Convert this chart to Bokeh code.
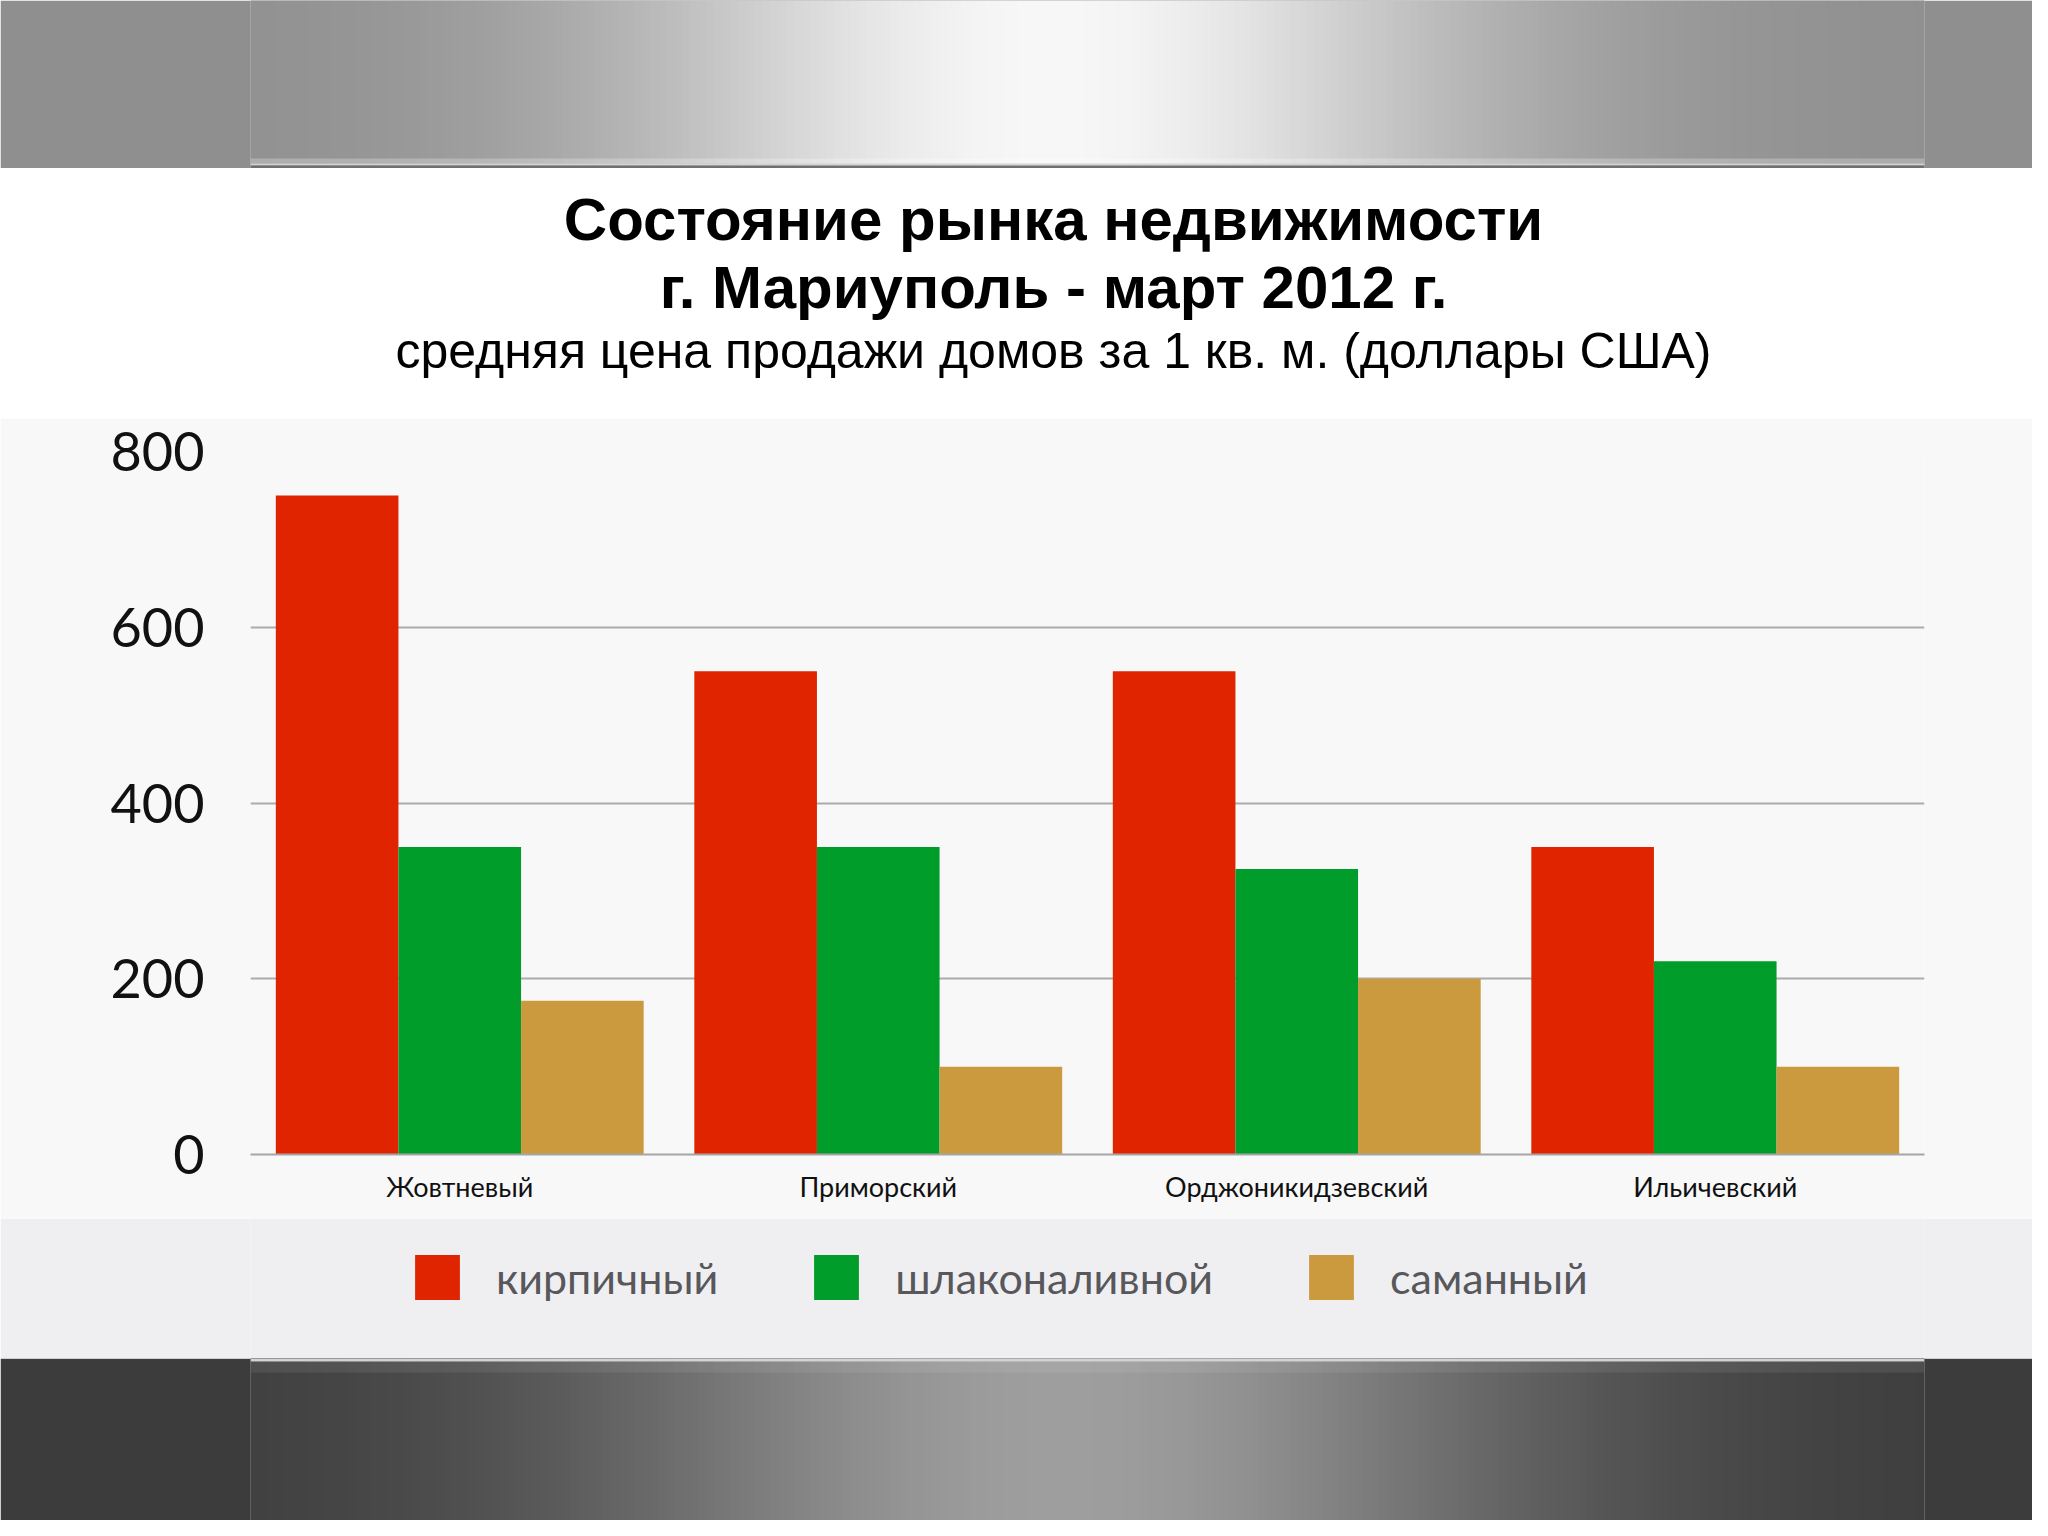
import numpy as np
from bokeh.plotting import figure
from bokeh.layouts import column
from bokeh.models import (FactorRange, Range1d, Legend, LegendItem, ColumnDataSource,
                          FixedTicker)
from bokeh.transform import dodge
from bokeh.core.properties import value
from bokeh.embed import file_html
from bokeh.resources import INLINE

# ---------------- data ----------------
districts = ["Жовтневый", "Приморский", "Орджоникидзевский", "Ильичевский"]
brick = [750, 550, 550, 350]
slag = [350, 350, 325, 220]
adobe = [175, 100, 200, 100]
series_names = ["кирпичный", "шлаконаливной", "саманный"]
y_ticks = [0, 200, 400, 600, 800]
title_lines = ["Состояние рынка недвижимости", "г. Мариуполь - март 2012 г."]
subtitle = "средняя цена продажи домов за 1 кв. м. (доллары США)"

# ---------------- styles / layout ----------------
W = 2032
RED, GREEN, GOLD = "#e02400", "#009d2b", "#cc9a3e"
LABEL_FONT = "Lato"
FR_L, FR_R = 250, 1924          # plot frame left/right (page pixels)
BL, BR = FR_L, W - FR_R


def hexgray(v):
    v = int(max(0, min(255, round(float(v)))))
    return "#%02x%02x%02x" % (v, v, v)


def base_fig(h, x_range, y_range, top=0, bottom=0):
    f = figure(width=W, height=h, x_range=x_range, y_range=y_range,
               toolbar_location=None, output_backend="svg",
               min_border_left=BL, min_border_right=BR,
               min_border_top=top, min_border_bottom=bottom)
    f.outline_line_color = None
    return f


def plain_fig(h, bg):
    f = base_fig(h, Range1d(FR_L, FR_R), Range1d(h, 0))
    f.axis.visible = False
    f.grid.visible = False
    f.background_fill_color = bg
    f.border_fill_color = bg
    return f


def band_strips(f, h, base, peak, center, sigma, step=8):
    lefts = np.arange(FR_L, FR_R, step, dtype=float)
    rights = np.minimum(lefts + step + 0.6, FR_R)
    mids = lefts + step / 2
    vals = base + (peak - base) * np.exp(-((mids - center) / sigma) ** 2)
    f.quad(left=lefts, right=rights, top=[0] * len(lefts), bottom=[h] * len(lefts),
           fill_color=[hexgray(v) for v in vals], line_color=None)
    return mids, vals


# ---- top band ----
h_top = 168
top_fig = plain_fig(h_top, hexgray(143))
band_strips(top_fig, h_top, 143, 247, 1050, 420)
top_fig.quad(left=[FR_L], right=[FR_R], top=[158], bottom=[163], fill_color="#ffffff",
             fill_alpha=0.25, line_color=None)
top_fig.quad(left=[FR_L], right=[FR_R], top=[163], bottom=[165], fill_color="#d4d4d4",
             line_color=None)
top_fig.quad(left=[FR_L], right=[FR_R], top=[165], bottom=[168], fill_color="#707070",
             line_color=None)

# ---- title ----
h_title = 250
title_fig = plain_fig(h_title, "#ffffff")
title_fig.text(x=[1053, 1053], y=[51, 119], text=title_lines,
               text_font=value("Liberation Sans"), text_font_style="bold",
               text_font_size="60px", text_align="center", text_baseline="middle",
               text_color="#000000")
title_fig.text(x=[1053], y=[182], text=[subtitle],
               text_font=value("Liberation Sans"), text_font_style="normal",
               text_font_size="50px", text_align="center", text_baseline="middle",
               text_color="#000000")

# ---- main chart ----
h_main = 800
src = ColumnDataSource(data=dict(district=districts, brick=brick, slag=slag, adobe=adobe))
p = base_fig(h_main, FactorRange(*districts, range_padding=0), Range1d(0, 800),
             top=33, bottom=64)
p.background_fill_color = "#f8f8f9"
p.border_fill_color = "#f8f8f9"

bw = 0.293
r1 = p.vbar(x=dodge("district", -bw, range=p.x_range), top="brick", width=bw, source=src,
            fill_color=RED, line_color=None)
r2 = p.vbar(x=dodge("district", 0.0, range=p.x_range), top="slag", width=bw, source=src,
            fill_color=GREEN, line_color=None)
r3 = p.vbar(x=dodge("district", bw, range=p.x_range), top="adobe", width=bw, source=src,
            fill_color=GOLD, line_color=None)

p.xgrid.grid_line_color = None
p.ygrid.grid_line_color = "#ababab"
p.ygrid.grid_line_width = 2
p.yaxis.ticker = FixedTicker(ticks=y_ticks)
p.yaxis.axis_line_color = None
p.yaxis.major_tick_line_color = None
p.yaxis.minor_tick_line_color = None
p.yaxis.major_label_text_font = LABEL_FONT
p.yaxis.major_label_text_font_size = "54px"
p.yaxis.major_label_text_color = "#111111"
p.yaxis.major_label_standoff = 40

p.xaxis.axis_line_color = "#a5a5a5"
p.xaxis.axis_line_width = 2
p.xaxis.major_tick_line_color = None
p.xaxis.minor_tick_line_color = None
p.xaxis.major_label_text_font = LABEL_FONT
p.xaxis.major_label_text_font_size = "27px"
p.xaxis.major_label_text_color = "#111111"
p.xaxis.major_label_standoff = 9

# ---- legend strip ----
h_leg = 140
leg_fig = plain_fig(h_leg, "#efeff1")
# zero-height swatch carriers (legend keys only)
src_leg = ColumnDataSource(data=dict(x=[0], top=[0]))
lr = [leg_fig.vbar(x="x", top="top", bottom=0, width=1, source=src_leg,
                   fill_color=c, line_color=None)
      for c in (RED, GREEN, GOLD)]
GW = 56
legend = Legend(items=[LegendItem(label=n, renderers=[r]) for n, r in zip(series_names, lr)],
                orientation="horizontal", glyph_width=GW, glyph_height=GW,
                label_standoff=31, spacing=90, label_text_font=LABEL_FONT,
                label_text_font_size="43px", label_text_color="#58585c",
                padding=0, margin=0, border_line_color=None,
                background_fill_alpha=0, location=(409 - FR_L, h_leg - 31 - GW))
leg_fig.add_layout(legend, "center")

# ---- bottom band ----
h_bot = 162
bot_fig = plain_fig(h_bot, hexgray(60))
band_strips(bot_fig, h_bot, 60, 158, 1060, 470)
bot_fig.quad(left=[FR_L], right=[FR_R], top=[0], bottom=[3], fill_color="#d2d2d2",
             line_color=None)
bot_fig.quad(left=[FR_L], right=[FR_R], top=[3], bottom=[14], fill_color="#ffffff",
             fill_alpha=0.08, line_color=None)

layout = column(top_fig, title_fig, p, leg_fig, bot_fig, spacing=0)

open("out.html", "w").write(file_html(layout, INLINE))
